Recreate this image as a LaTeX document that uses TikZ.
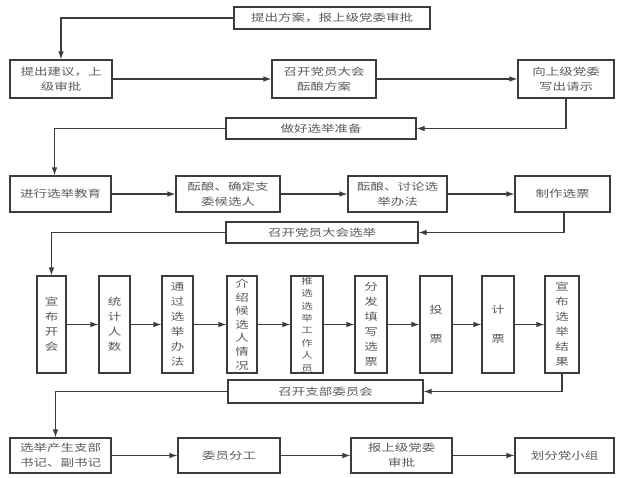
\documentclass[tikz,border=0pt]{standalone}
\usepackage{fontspec}
\setmainfont[FakeStretch=1.35]{Noto Sans CJK SC}
\usetikzlibrary{arrows.meta}
\definecolor{edge}{RGB}{60,60,60}
\definecolor{txt}{RGB}{90,90,90}
\tikzset{
  box/.style={draw=edge, line width=1.1pt, fill=white, text=txt, align=center, inner sep=0pt,
    font=\fontsize{10}{15}\selectfont},
  vbox/.style={box, font=\fontsize{10}{15}\selectfont, minimum height=97pt},
  arr/.style={draw=edge, line width=1.1pt, -{Latex[length=8pt,width=5.5pt]}},
}
\begin{document}
\begin{tikzpicture}[x=1pt,y=-1pt]
\useasboundingbox[fill=white] (0,0) rectangle (623,477);
% top
\node[box, minimum width=196pt, minimum height=22pt] (top) at (332,18) {提出方案，报上级党委审批};
% row 1
\node[box, minimum width=102pt, minimum height=38pt] (A) at (61,79) {提出建议，上\\级审批};
\node[box, minimum width=104pt, minimum height=38pt] (B) at (324,79) {召开党员大会\\酝酿方案};
\node[box, minimum width=96pt, minimum height=38pt] (C) at (566,79) {向上级党委\\写出请示};
\node[box, minimum width=190pt, minimum height=21pt] (prep) at (321,128.5) {做好选举准备};
% row 2
\node[box, minimum width=101pt, minimum height=36pt] (D) at (60.5,194) {进行选举教育};
\node[box, minimum width=104pt, minimum height=36pt] (E) at (228,194) {酝酿、确定支\\委候选人};
\node[box, minimum width=99pt, minimum height=36pt] (F) at (397.5,194) {酝酿、讨论选\\举办法};
\node[box, minimum width=95pt, minimum height=36pt] (G) at (562.5,194) {制作选票};
\node[box, minimum width=192pt, minimum height=21pt] (vote) at (322,232.5) {召开党员大会选举};
% row 3 (vertical)
\node[vbox, minimum width=29pt] (V1) at (51.5,324.5) {宣\\布\\开\\会};
\node[vbox, minimum width=31pt] (V2) at (114.5,324.5) {统\\计\\人\\数};
\node[vbox, minimum width=31pt] (V3) at (177.5,324.5) {通\\过\\选\\举\\办\\法};
\node[vbox, minimum width=30pt, font=\fontsize{10}{13.6}\selectfont] (V4) at (242,324.5) {介\\绍\\候\\选\\人\\情\\况};
\node[vbox, minimum width=32pt, font=\fontsize{8.5}{12.4}\selectfont] (V5) at (307,324.5) {推\\选\\选\\举\\工\\作\\人\\员};
\node[vbox, minimum width=32pt] (V6) at (371,324.5) {分\\发\\填\\写\\选\\票};
\node[vbox, minimum width=32pt, font=\fontsize{10}{29}\selectfont] (V7) at (436,324.5) {投\\票};
\node[vbox, minimum width=32pt, font=\fontsize{10}{29}\selectfont] (V8) at (498,324.5) {计\\票};
\node[vbox, minimum width=34pt] (V9) at (562,324.5) {宣\\布\\选\\举\\结\\果};
\node[box, minimum width=195pt, minimum height=23pt] (comm) at (325.5,391.5) {召开支部委员会};
% row 4
\node[box, minimum width=101pt, minimum height=35pt] (H) at (60.5,455.5) {选举产生支部\\书记、副书记};
\node[box, minimum width=102pt, minimum height=35pt] (I) at (229,455.5) {委员分工};
\node[box, minimum width=101pt, minimum height=35pt] (J) at (401.5,455.5) {报上级党委\\审批};
\node[box, minimum width=99pt, minimum height=35pt] (K) at (564.5,455.5) {划分党小组};
% connectors
\draw[arr] (top.west) -| (A.north);
\draw[arr] (A) -- (B);
\draw[arr] (B) -- (C);
\draw[arr] (C.south) |- (prep.east);
\draw[arr] (prep.west) -| ([xshift=-6pt]D.north);
\draw[arr] (D) -- (E);
\draw[arr] (E) -- (F);
\draw[arr] (F) -- (G);
\draw[arr] ([xshift=1.5pt]G.south) |- (vote.east);
\draw[arr] (vote.west) -| (V1.north);
\draw[arr] (V1) -- (V2);
\draw[arr] (V2) -- (V3);
\draw[arr] (V3) -- (V4);
\draw[arr] (V4) -- (V5);
\draw[arr] (V5) -- (V6);
\draw[arr] (V6) -- (V7);
\draw[arr] (V7) -- (V8);
\draw[arr] (V8) -- (V9);
\draw[arr] (V9.south) |- (comm.east);
\draw[arr] (comm.west) -| ([xshift=-5pt]H.north);
\draw[arr] (H) -- (I);
\draw[arr] (I) -- (J);
\draw[arr] (J) -- (K);
\end{tikzpicture}
\end{document}
